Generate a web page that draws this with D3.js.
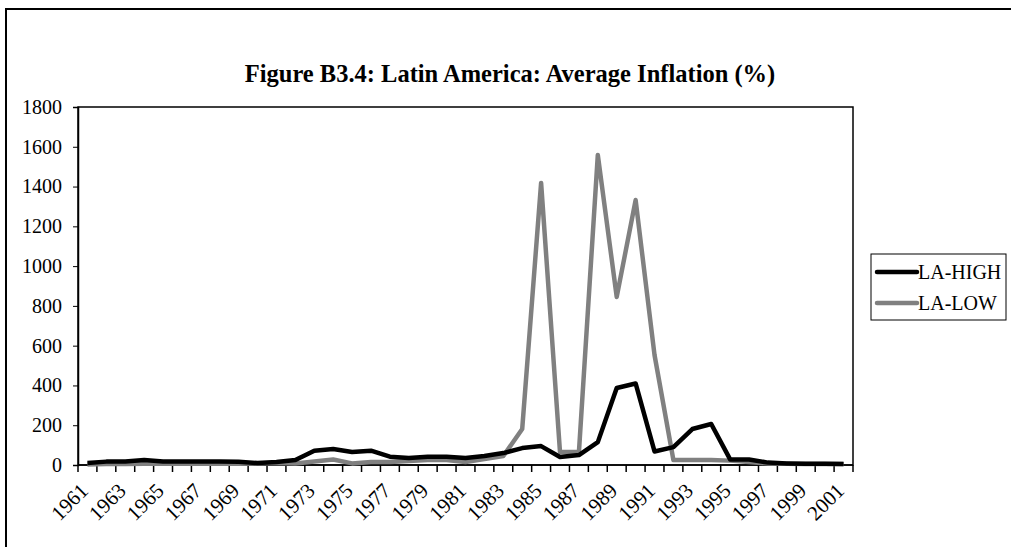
<!DOCTYPE html>
<html>
<head>
<meta charset="utf-8">
<script src="https://cdn.jsdelivr.net/npm/d3@7"></script>
<style>
  body { margin: 0; background: #fff; }
  text { font-family: "Liberation Serif", "Times New Roman", serif; fill: #000; }
</style>
</head>
<body>
<svg width="1011" height="547"></svg>
<script>
// years on the category axis
const years = d3.range(1961, 2002);
// average inflation, %
const laHigh = [10, 17, 18, 25, 18, 17, 17, 17, 16, 10,
                15, 25, 72, 80, 65, 72, 42, 35, 42, 42,
                35, 45, 60, 85, 95, 40, 50, 115, 387, 410,
                68, 90, 181, 206, 28, 28, 12, 8, 6, 6, 5];
const laLow = [3, 5, 5, 6, 6, 6, 6, 6, 6, 8,
               10, 8, 18, 28, 8, 15, 15, 20, 25, 25,
               15, 30, 45, 181, 1418, 65, 65, 1559, 845, 1332,
               553, 25, 25, 25, 22, 15, 8, 6, 5, 5, 5];
const yTicks = [0, 200, 400, 600, 800, 1000, 1200, 1400, 1600, 1800];
const seriesNames = ["LA-HIGH", "LA-LOW"];
const seriesColors = ["#000000", "#808080"];

const svg = d3.select("svg");
svg.append("rect").attr("width", 1011).attr("height", 547).attr("fill", "#fff");

// outer chart frame (runs off the right and bottom)
svg.append("rect")
    .attr("x", 6).attr("y", 9)
    .attr("width", 1100).attr("height", 600)
    .attr("fill", "none").attr("stroke", "#000").attr("stroke-width", 2);

svg.append("text")
    .attr("x", 510).attr("y", 82)
    .attr("text-anchor", "middle")
    .style("font-size", "24.5px").style("font-weight", "bold")
    .text("Figure B3.4: Latin America: Average Inflation (%)");

const plotL = 78, plotR = 853, plotT = 107, plotB = 465;

const x = d3.scaleBand().domain(years).range([plotL, plotR]).padding(0);
const y = d3.scaleLinear().domain([0, 1800]).range([plotB, plotT]);
const cx = d => x(d) + x.bandwidth() / 2;

// plot frame
svg.append("rect")
    .attr("x", plotL).attr("y", plotT)
    .attr("width", plotR - plotL).attr("height", plotB - plotT)
    .attr("fill", "none").attr("stroke", "#000").attr("stroke-width", 1.5);

// y axis
const yAxis = svg.append("g")
    .attr("transform", `translate(${plotL},0)`)
    .call(d3.axisLeft(y).tickValues(yTicks).tickSize(5).tickPadding(11).tickFormat(d3.format("d")));
yAxis.select(".domain").attr("stroke-width", 1.5);
yAxis.selectAll("text").style("font-size", "20px").style("font-family", "Liberation Serif");

// x axis: ticks sit between categories
const xAxis = svg.append("g").attr("transform", `translate(0,${plotB})`);
xAxis.append("line")
    .attr("x1", plotL).attr("x2", plotR)
    .attr("stroke", "#000").attr("stroke-width", 1.5);
xAxis.selectAll(".tk")
    .data(years.concat([null]))
    .enter().append("line")
    .attr("class", "tk")
    .attr("x1", d => d === null ? plotR : x(d))
    .attr("x2", d => d === null ? plotR : x(d))
    .attr("y1", 0).attr("y2", 7)
    .attr("stroke", "#000").attr("stroke-width", 1.5);
xAxis.selectAll(".lbl")
    .data(years.filter((d, i) => i % 2 === 0))
    .enter().append("text")
    .attr("class", "lbl")
    .attr("transform", d => `translate(${cx(d) + 2},27) rotate(-45)`)
    .attr("text-anchor", "end")
    .style("font-size", "21px")
    .text(d => d);

// lines
const line = d3.line().x((d, i) => cx(years[i])).y(d => y(d));
[laLow, laHigh].forEach((vals, k) => {
    svg.append("path")
        .datum(vals)
        .attr("d", line)
        .attr("fill", "none")
        .attr("stroke", k === 0 ? seriesColors[1] : seriesColors[0])
        .attr("stroke-width", 4.5)
        .attr("stroke-linejoin", "round");
});

// legend
const legend = svg.append("g");
legend.append("rect")
    .attr("x", 871).attr("y", 254)
    .attr("width", 135).attr("height", 66)
    .attr("fill", "#fff").attr("stroke", "#000").attr("stroke-width", 1);
seriesNames.forEach((name, i) => {
    const ly = 272 + i * 31;
    legend.append("line")
        .attr("x1", 877).attr("x2", 917)
        .attr("y1", ly).attr("y2", ly)
        .attr("stroke", seriesColors[i]).attr("stroke-width", 4.5)
        .attr("stroke-linecap", "round");
    legend.append("text")
        .attr("x", 918).attr("y", ly + 7)
        .style("font-size", "20px")
        .text(name);
});
</script>
</body>
</html>
